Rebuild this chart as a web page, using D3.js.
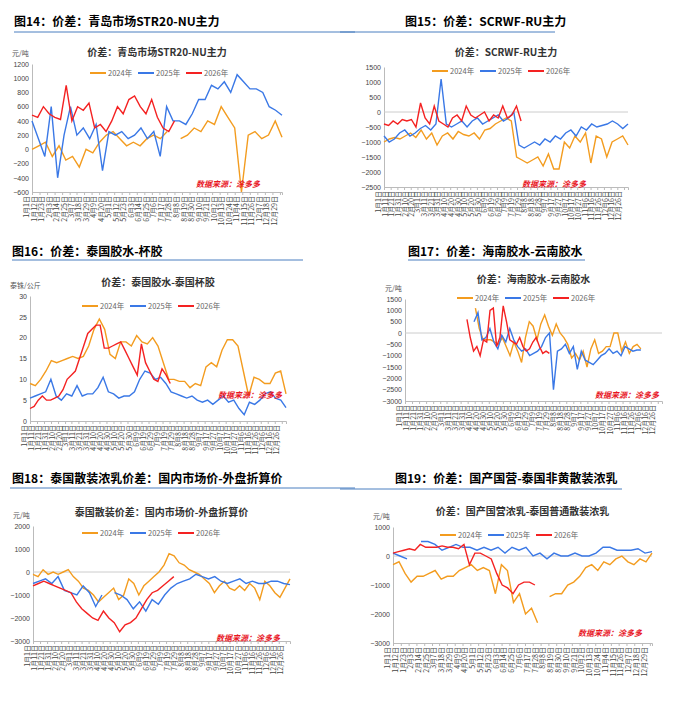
<!DOCTYPE html>
<html><head><meta charset="utf-8">
<script src="https://cdn.jsdelivr.net/npm/d3@7"></script>
<style>
body{margin:0;background:#fff;}
svg text{font-family:"Liberation Sans",Arial,sans-serif;}
.cjk{font-family:"Noto Sans CJK SC",sans-serif;}
</style></head><body>
<div id="chart"></div>
<script>
// ---- data ----------------------------------------------------------
const legendNames = ['2024年', '2025年', '2026年'];
const colors = ['#f39c1f', '#3a78e6', '#f42222'];

// x tick labels (two spacings used in the source)
const ticks11 = ['1月1日','1月12日','1月23日','2月3日','2月14日','2月25日','3月7日','3月18日','3月29日','4月9日','4月20日','5月1日','5月12日','5月23日','6月3日','6月14日','6月25日','7月6日','7月17日','7月28日','8月8日','8月19日','8月30日','9月10日','9月21日','10月2日','10月13日','10月24日','11月4日','11月15日','11月26日','12月7日','12月18日','12月29日'];
const ticks10 = ['1月1日','1月11日','1月21日','1月31日','2月10日','2月20日','3月1日','3月11日','3月21日','3月31日','4月10日','4月20日','4月30日','5月10日','5月20日','5月30日','6月9日','6月19日','6月29日','7月9日','7月19日','7月29日','8月8日','8月18日','8月28日','9月7日','9月17日','9月27日','10月7日','10月17日','10月27日','11月6日','11月16日','11月26日','12月6日','12月16日','12月26日'];

// series: [startDay, endDay, values evenly spread between]
const c14_2024 = [0, 365, [0,50,100,-100,50,-150,-100,-250,0,-50,100,200,250,150,50,100,50,150,200,150,250,null,150,200,300,250,400,350,600,450,300,-600,200,250,150,200,400,170]];
const c14_2025 = [0, 365, [400,150,-100,600,-400,200,600,200,300,150,350,-300,250,200,250,150,200,300,150,250,-100,600,400,400,350,500,700,700,900,850,950,800,1050,950,850,850,800,600,550,480]];
const c14_2026 = [0, 208, [480,450,600,500,450,420,900,400,600,550,650,300,350,250,400,600,500,700,750,600,500,700,450,300,250,400]];

const c15_2024 = [0, 365, [-1000,-900,-850,-900,-800,-700,-850,-600,-900,-700,-1100,-800,-700,-900,-650,-750,-800,-700,-900,-600,-550,-400,-300,-200,-300,-1500,-1600,-1700,-1600,-1500,-1800,-1400,-1900,-1900,-1000,-1200,-800,-1000,-700,-1700,-800,-900,-1500,-1000,-900,-800,-1100]];
const c15_2025 = [0, 365, [-800,-1000,-900,-700,-600,-800,-700,-550,-450,-600,-400,1100,-400,-500,-400,-300,-500,-300,-200,-400,-300,-200,-100,-300,-200,0,-1100,-1200,-1100,-1000,-1100,-900,-1000,-800,-900,-700,-600,-800,-500,-600,-400,-500,-450,-400,-300,-400,-550,-400]];
const c15_2026 = [0, 205, [-400,-450,-300,-400,-250,-300,-250,-500,300,-200,-400,200,-300,-400,-500,-200,-100,-300,200,-100,-200,-100,0,-300,-100,-200,200,-200,-100,200,-300]];

const c16_2024 = [0, 365, [9,8.5,10,12,14.5,14,14.5,15,15.5,15,15.5,18,22,24.5,22,16,15,19,19,18,20.5,19,18.5,20,18,14,10,10,9.5,9.5,8,9,8.5,13,14,13,17,19.5,19.5,18,12,6,10.5,10,9,9,11.5,12,6.5]];
const c16_2025 = [0, 365, [5.5,6,6.5,7,10,6,5,6.5,6,8.5,6,6.5,6.5,8,10.5,7,6.5,5.5,6,6,7,10,12,11.5,10,10.5,9,7,6.5,6,5.5,6,5,4.5,5,4,5,6,4.5,5,3,1.5,4.5,4,5,6.5,7,5.5,5,3.2]];
const c16_2026 = [0, 200, [3,3.5,5,6,5,5,5.5,6,7.5,10,11,12,15,18,21,22,23,23,17.5,17.5,18,18.5,19,17,15,13,11,18.5,14,12,10,9.5,12.5,11,9]];

const c17_2024 = [100, 335, [1100,200,-300,-300,-300,-400,-500,-200,-600,-1000,-400,-800,-1300,-200,500,300,-300,400,800,300,-100,400,0,-200,-500,-1100,-900,-1200,-800,-1500,-700,-300,-900,-800,-600,-600,0,0,-800,-400,-900,-600,-500,-700]];
const c17_2025 = [98, 335, [500,900,-300,-200,200,-400,-700,-100,-400,200,-300,-600,-800,-700,-1000,-900,-800,-600,-200,0,-2500,-800,-700,-500,-900,-600,-1600,-800,-1200,-1300,-1400,-1200,-1000,-900,-700,-900,-800,-1000,-600,-700,-800,-750,-750]];
const c17_2026 = [88, 205, [600,-200,-800,-600,-1000,-300,-400,1000,1100,-600,-200,1200,500,-300,-400,-500,-200,-600,-800,-700,-400,-200,-600,-900,-800,-900]];

const c18_2024 = [0, 365, [-100,-200,100,-100,0,-100,0,100,-200,-400,-700,-800,-1000,-1300,-1100,-900,-700,-1200,-1000,-300,-500,-1000,-600,-400,-200,0,300,800,700,400,300,100,0,-100,-300,-500,-900,-600,-400,-700,-800,-600,-800,-500,-700,-1200,-400,-600,-900,-1100,-700,-300]];
const c18_2025 = [0, 365, [-500,-400,-300,-500,-200,-800,-900,-1000,-600,-900,-1500,-1000,null,-900,-1000,-1200,-1600,-1300,-1700,-1200,-1400,-1000,-700,-500,-400,-300,-100,-200,-300,-200,-400,-500,-400,-300,-500,-400,-500,-500,-400,-400,-500,-550]];
const c18_2026 = [0, 200, [-600,-500,-400,-500,-600,-700,-800,-900,-1300,-1600,-1800,-2000,-2100,-1700,-2000,-2200,-2600,-2300,-2200,-2000,-1600,-1200,-900,-800,-600,-400,-200]];

const c19_2024 = [0, 365, [-300,-200,-600,-900,-700,-700,-600,-500,-800,-700,-700,-500,-400,-300,-500,-400,-500,-1300,-300,-500,-1600,-1300,-2000,-1800,-2300,null,-1400,-1300,-1300,-1000,-900,-700,-400,-300,-500,-200,-300,-100,0,-200,-300,-100,-200,100]];
const c19_2025 = [0, 365, [100,0,-100,null,500,500,400,200,300,400,300,300,200,300,200,300,100,300,200,300,0,100,-100,100,0,0,100,0,0,100,300,300,200,200,200,250,100,150]];
const c19_2026 = [0, 200, [100,150,200,250,200,400,300,300,300,350,300,300,250,400,-300,100,100,0,-100,-600,-1000,-1100,-1300,-1000,-900,-900,-1000]];

// ---- layout ----------------------------------------------------------
const panels = [
  {fig:'图14：价差：青岛市场STR20-NU主力', fx:14, fy:26, lx:[14,355], ly:32,
   title:'价差：青岛市场STR20-NU主力', unit:'元/吨', x0:32, x1:282, y0:64, y1:192, tt:8,
   dom:[-600,1200], step:200, zero:false, ticks:ticks11, leg:[90,73], src:[196,187],
   series:[c14_2024,c14_2025,c14_2026]},
  {fig:'图15：价差：SCRWF-RU主力', fx:405, fy:26, lx:[340,555], ly:32,
   title:'价差：SCRWF-RU主力', unit:'', x0:384, x1:628, y0:67, y1:187, tt:11,
   dom:[-2500,1500], step:500, zero:true, ticks:ticks10, leg:[432,71], src:[522,187],
   series:[c15_2024,c15_2025,c15_2026]},
  {fig:'图16：价差：泰国胶水-杯胶', fx:12, fy:256, lx:[12,303], ly:260,
   title:'价差：泰国胶水-泰国杯胶', unit:'泰铢/公斤', x0:30, x1:286, y0:296, y1:421, tt:10,
   dom:[0,30], step:5, zero:false, ticks:ticks10, leg:[82,306], src:[218,398],
   series:[c16_2024,c16_2025,c16_2026]},
  {fig:'图17：价差：海南胶水-云南胶水', fx:408, fy:256, lx:[408,585], ly:260,
   title:'价差：海南胶水-云南胶水', unit:'元/吨', x0:405, x1:662, y0:299, y1:401, tt:16,
   dom:[-3000,1500], step:500, zero:true, ticks:ticks10, leg:[457,298], src:[595,398],
   series:[c17_2024,c17_2025,c17_2026]},
  {fig:'图18：泰国散装浓乳价差：国内市场价-外盘折算价', fx:12, fy:483, lx:[10,355], ly:488,
   title:'泰国散装价差：国内市场价-外盘折算价', unit:'元/吨', x0:33, x1:290, y0:526, y1:641, tt:10,
   dom:[-3000,2000], step:1000, zero:true, ticks:ticks10, leg:[82,533], src:[216,641],
   series:[c18_2024,c18_2025,c18_2026]},
  {fig:'图19：价差：国产国营-泰国非黄散装浓乳', fx:395, fy:483, lx:[340,622], ly:489,
   title:'价差：国产国营浓乳-泰国普通散装浓乳', unit:'元/吨', x0:393, x1:652, y0:527, y1:643, tt:12,
   dom:[-3000,1000], step:1000, zero:true, ticks:ticks11, leg:[440,535], src:[578,636],
   series:[c19_2024,c19_2025,c19_2026]}
];

const svg = d3.select('#chart').append('svg').attr('width', 677).attr('height', 715);
const parseDay = s => {
  const m = s.match(/(\d+)月(\d+)日/);
  return d3.timeDay.count(new Date(2025,0,1), new Date(2025, +m[1]-1, +m[2]));
};

panels.forEach(p => {
  // figure header
  svg.append('text').attr('class','cjk').attr('x', p.fx).attr('y', p.fy)
    .style('font-size','12px').style('font-weight','bold').attr('fill','#000').text(p.fig);
  svg.append('line').attr('x1', p.lx[0]).attr('x2', p.lx[1]).attr('y1', p.ly).attr('y2', p.ly)
    .attr('stroke','#4a7fc0').attr('stroke-width',1);

  const x = d3.scaleLinear().domain([0,365]).range([p.x0, p.x1]);
  const y = d3.scaleLinear().domain(p.dom).range([p.y1, p.y0]);
  const g = svg.append('g');

  // chart title
  g.append('text').attr('class','cjk').attr('x', (p.x0+p.x1)/2).attr('y', p.y0 - p.tt)
    .attr('text-anchor','middle').style('font-size','10px').style('font-weight','bold')
    .attr('fill','#333').text(p.title);
  if (p.unit) g.append('text').attr('class','cjk').attr('x', p.x0 - 20).attr('y', p.y0 - 8)
    .style('font-size','7px').attr('fill','#555').text(p.unit);

  // y axis
  const yTicks = d3.range(p.dom[0], p.dom[1] + 1e-9, p.step);
  const ya = g.append('g').attr('transform', `translate(${p.x0},0)`)
    .call(d3.axisLeft(y).tickValues(yTicks).tickSize(0).tickPadding(3).tickFormat(d3.format('d')));
  ya.select('.domain').attr('stroke','#bbb');
  ya.selectAll('text').style('font-size','7px').attr('fill','#444');

  // x axis
  const xa = g.append('g').attr('transform', `translate(0,${p.y1})`)
    .call(d3.axisBottom(x).tickValues(p.ticks.map(parseDay)).tickSize(3)
      .tickFormat((d,i) => p.ticks[i]));
  xa.select('.domain').attr('stroke','#bbb');
  xa.selectAll('line').attr('stroke','#bbb');
  xa.selectAll('text').attr('class','cjk').style('font-size','7px').attr('fill','#444')
    .attr('transform','rotate(-90)').attr('text-anchor','end').attr('dx','-4').attr('dy','-3.5')
    .attr('y', 0).attr('x', 0);
  if (p.zero) g.append('line').attr('x1', p.x0).attr('x2', p.x1)
    .attr('y1', y(0)).attr('y2', y(0)).attr('stroke','#ccc');

  // lines
  p.series.forEach((s, k) => {
    const [a, b, vals] = s;
    const pts = vals.map((v, i) => [a + (b - a) * i / (vals.length - 1), v]);
    g.append('path').datum(pts)
      .attr('d', d3.line().defined(d => d[1] != null).x(d => x(d[0])).y(d => y(d[1])))
      .attr('fill','none').attr('stroke', colors[k]).attr('stroke-width', 1.4);
  });

  // legend
  legendNames.forEach((n, k) => {
    const lx = p.leg[0] + k * 48;
    g.append('line').attr('x1', lx).attr('x2', lx + 16).attr('y1', p.leg[1]).attr('y2', p.leg[1])
      .attr('stroke', colors[k]).attr('stroke-width', 2);
    g.append('text').attr('class','cjk').attr('x', lx + 18).attr('y', p.leg[1] + 3)
      .style('font-size','7.5px').attr('fill','#666').text(n);
  });

  // source
  g.append('text').attr('class','cjk').attr('x', p.src[0]).attr('y', p.src[1])
    .style('font-size','8px').style('font-weight','bold').style('font-style','italic')
    .attr('fill','#e8141e').text('数据来源：涂多多');
});
</script>
</body></html>
